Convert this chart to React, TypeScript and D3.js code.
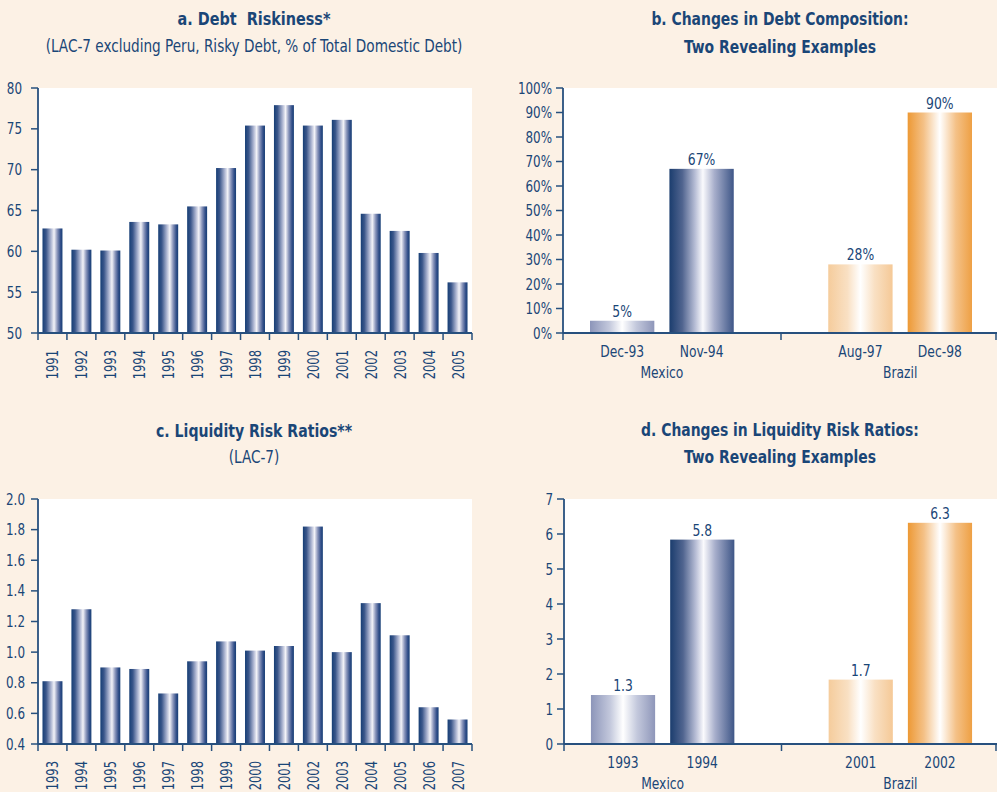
import React, { useEffect, useRef } from "react";
import * as d3 from "d3";

// a. Debt riskiness
const riskYears = ["1991", "1992", "1993", "1994", "1995", "1996", "1997", "1998", "1999", "2000", "2001", "2002", "2003", "2004", "2005"];
const riskValues = [62.8, 60.2, 60.1, 63.6, 63.3, 65.5, 70.2, 75.4, 77.9, 75.4, 76.1, 64.6, 62.5, 59.8, 56.2];
const riskTicks = [50, 55, 60, 65, 70, 75, 80];

// b. Debt composition
const compCategories = ["Dec-93", "Nov-94", "Aug-97", "Dec-98"];
const compGroups = ["Mexico", "Brazil"];
const compValues = [5, 67, 28, 90];
const compLabels = ["5%", "67%", "28%", "90%"];
const compTicks = [0, 10, 20, 30, 40, 50, 60, 70, 80, 90, 100];

// c. Liquidity risk ratios
const liqYears = ["1993", "1994", "1995", "1996", "1997", "1998", "1999", "2000", "2001", "2002", "2003", "2004", "2005", "2006", "2007"];
const liqValues = [0.81, 1.28, 0.9, 0.89, 0.73, 0.94, 1.07, 1.01, 1.04, 1.82, 1.0, 1.32, 1.11, 0.64, 0.56];
const liqTicks = [0.4, 0.6, 0.8, 1.0, 1.2, 1.4, 1.6, 1.8, 2.0];

// d. Changes in liquidity risk ratios
const ratioCategories = ["1993", "1994", "2001", "2002"];
const ratioGroups = ["Mexico", "Brazil"];
const ratioValues = [1.4, 5.84, 1.84, 6.32];
const ratioLabels = ["1.3", "5.8", "1.7", "6.3"];
const ratioTicks = [0, 1, 2, 3, 4, 5, 6, 7];

const FONT = "'Liberation Sans Narrow', 'DejaVu Sans Condensed', 'Roboto', sans-serif";
const TEXT = "#1A4677";
const AXIS = "#27507E";
const BG = "#FCF1E5";
const SQ = 0.83; // 横向压缩, 模拟窄体字
const FS = 16;

const gradients = {
  navy: [[0, "#163E75"], [0.18, "#3A568A"], [0.42, "#A9B2CF"], [0.58, "#F3F3F8"], [0.74, "#8C97BC"], [0.9, "#34508A"], [1, "#163E75"]],
  navyBig: [[0, "#1B3D6E"], [0.2, "#50648F"], [0.4, "#B8BED6"], [0.52, "#FAFAFD"], [0.7, "#A7AECB"], [1, "#3E5687"]],
  lavender: [[0, "#8C95B9"], [0.3, "#C3C8DC"], [0.5, "#FFFFFF"], [0.72, "#C3C8DC"], [1, "#8E96B9"]],
  peach: [[0, "#F5CC9C"], [0.3, "#F9E0C3"], [0.5, "#FFFFFF"], [0.72, "#F9E0C3"], [1, "#F5C997"]],
  orange: [[0, "#ED9935"], [0.25, "#F4C187"], [0.5, "#FFFFFF"], [0.75, "#F4C187"], [1, "#EEA044"]],
};

const App = () => {
  const svgRef = useRef(null);

  useEffect(() => {
    const width = 997;
    const height = 792;

    d3.select(svgRef.current).selectAll("*").remove();

    const svg = d3
      .select(svgRef.current)
      .attr("width", width)
      .attr("height", height)
      .style("font-family", FONT);

    svg.append("rect").attr("width", width).attr("height", height).attr("fill", BG);

    // 渐变
    const defs = svg.append("defs");
    Object.entries(gradients).forEach(([id, stops]) => {
      const g = defs.append("linearGradient").attr("id", `g-${id}`).attr("x1", "0").attr("x2", "1").attr("y1", "0").attr("y2", "0");
      stops.forEach(([o, c]) => g.append("stop").attr("offset", o).attr("stop-color", c));
    });

    // 文字 (压缩宽度)
    const label = (x, y, t, anchor = "middle", size = FS, sq = SQ, rot = 0, weight = 400) =>
      svg
        .append("text")
        .attr("transform", `translate(${x},${y}) rotate(${rot}) scale(${sq},1)`)
        .attr("text-anchor", anchor)
        .attr("fill", TEXT)
        .style("font-size", `${size}px`)
        .style("font-weight", weight)
        .style("white-space", "pre")
        .text(t);

    const title = (lines, cx, ys, weights, sizes, squeeze) => {
      lines.forEach((t, i) => label(cx, ys[i], t, "middle", sizes[i], squeeze[i], 0, weights[i]));
    };

    const yAxis = (y, ticks, x0, fmt, labelRight) => {
      ticks.forEach((t) => {
        svg.append("line").attr("x1", x0 - 7).attr("x2", x0).attr("y1", y(t)).attr("y2", y(t)).attr("stroke", AXIS).attr("stroke-width", 1.5);
        label(labelRight, y(t) + 5.5, fmt(t), "end");
      });
      const [b, t] = y.range();
      svg.append("line").attr("x1", x0).attr("x2", x0).attr("y1", t).attr("y2", b).attr("stroke", AXIS).attr("stroke-width", 1.8);
    };

    // 年度柱状图 (a, c)
    const yearPanel = (cats, vals, ticks, box, fmt, labelRight) => {
      const { left, right, top, bottom } = box;
      svg.append("rect").attr("x", left).attr("y", top).attr("width", right - left).attr("height", bottom - top).attr("fill", "#fff");

      const x = d3.scaleBand().domain(cats).range([left, right]).paddingInner(0.31).paddingOuter(0.155);
      const y = d3.scaleLinear().domain([ticks[0], ticks[ticks.length - 1]]).range([bottom, top]);

      svg
        .append("g")
        .selectAll("rect")
        .data(cats)
        .enter()
        .append("rect")
        .attr("x", (d) => x(d))
        .attr("y", (d, i) => y(vals[i]))
        .attr("width", x.bandwidth())
        .attr("height", (d, i) => bottom - y(vals[i]))
        .attr("fill", "url(#g-navy)");

      yAxis(y, ticks, left, fmt, labelRight);

      // x 轴
      svg.append("line").attr("x1", left).attr("x2", right).attr("y1", bottom).attr("y2", bottom).attr("stroke", AXIS).attr("stroke-width", 1.8);
      const step = x.step();
      d3.range(cats.length + 1).forEach((i) => {
        svg
          .append("line")
          .attr("x1", left + i * step)
          .attr("x2", left + i * step)
          .attr("y1", bottom)
          .attr("y2", bottom + 7)
          .attr("stroke", AXIS)
          .attr("stroke-width", 1.5);
      });
      cats.forEach((d) => {
        label(x(d) + x.bandwidth() / 2 + 6, bottom + 17, d, "end", FS, 0.8, -90);
      });
    };

    // 分组柱状图 (b, d)
    const groupPanel = (cats, groups, vals, labels, ticks, box, fmt, fills) => {
      const { left, right, top, bottom } = box;
      svg.append("rect").attr("x", left).attr("y", top).attr("width", right - left).attr("height", bottom - top).attr("fill", "#fff");

      const slots = [cats[0], cats[1], "__gap", cats[2], cats[3]];
      const x = d3.scaleBand().domain(slots).range([left, right + 2]).paddingInner(0.19).paddingOuter(0.34);
      const y = d3.scaleLinear().domain([ticks[0], ticks[ticks.length - 1]]).range([bottom, top]);

      cats.forEach((c, i) => {
        svg
          .append("rect")
          .attr("x", x(c))
          .attr("y", y(vals[i]))
          .attr("width", x.bandwidth())
          .attr("height", bottom - y(vals[i]))
          .attr("fill", `url(#g-${fills[i]})`);
        label(x(c) + x.bandwidth() / 2, y(vals[i]) - 4, labels[i], "middle", FS, 0.86);
        label(x(c) + x.bandwidth() / 2, bottom + 24, c, "middle", 16.5, 0.83);
      });

      groups.forEach((g, gi) => {
        const a = cats[gi * 2];
        const b = cats[gi * 2 + 1];
        const cx = (x(a) + x(b) + x.bandwidth()) / 2;
        label(cx, bottom + 45, g, "middle", 16.5, 0.83);
      });

      yAxis(y, ticks, left, fmt, left - 11);

      svg.append("line").attr("x1", left).attr("x2", right).attr("y1", bottom).attr("y2", bottom).attr("stroke", AXIS).attr("stroke-width", 1.8);
      const sep = x("__gap") + x.bandwidth() / 2;
      [left, sep, right - 1].forEach((tx) => {
        svg.append("line").attr("x1", tx).attr("x2", tx).attr("y1", bottom).attr("y2", bottom + 7).attr("stroke", AXIS).attr("stroke-width", 1.5);
      });
    };

    // a
    title(["a. Debt  Riskiness*", "(LAC-7 excluding Peru, Risky Debt, % of Total Domestic Debt)"], 254, [25, 52], [700, 400], [18, 17], [0.89, 0.89]);
    yearPanel(riskYears, riskValues, riskTicks, { left: 38, right: 472, top: 88, bottom: 333 }, d3.format("d"), 22);

    // b
    title(["b. Changes in Debt Composition:", "Two Revealing Examples"], 780, [25, 53], [700, 700], [18, 18], [0.86, 0.86]);
    groupPanel(compCategories, compGroups, compValues, compLabels, compTicks, { left: 563, right: 997, top: 88, bottom: 333 }, (d) => `${d}%`, ["lavender", "navyBig", "peach", "orange"]);

    // c
    title(["c. Liquidity Risk Ratios**", "(LAC-7)"], 254, [437, 463], [700, 400], [18, 17], [0.87, 0.89]);
    yearPanel(liqYears, liqValues, liqTicks, { left: 38, right: 472, top: 499, bottom: 744 }, d3.format(".1f"), 25);

    // d
    title(["d. Changes in Liquidity Risk Ratios:", "Two Revealing Examples"], 780, [436, 463], [700, 700], [18, 18], [0.86, 0.86]);
    groupPanel(ratioCategories, ratioGroups, ratioValues, ratioLabels, ratioTicks, { left: 564, right: 997, top: 499, bottom: 744 }, d3.format("d"), ["lavender", "navyBig", "peach", "orange"]);
  }, []);

  return <svg ref={svgRef} style={{ position: "absolute", left: 0, top: 0 }} />;
};

export default App;
